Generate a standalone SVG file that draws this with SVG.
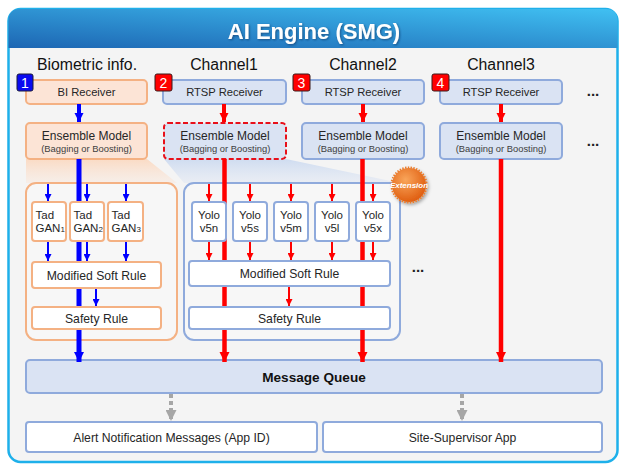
<svg xmlns="http://www.w3.org/2000/svg" width="621" height="465" viewBox="0 0 621 465">
<defs>
<linearGradient id="hdr" x1="0" y1="1" x2="1" y2="0">
<stop offset="0" stop-color="#1d66b3"/><stop offset="1" stop-color="#40c0f2"/>
</linearGradient>
<linearGradient id="fanO" x1="0" y1="0" x2="0" y2="1">
<stop offset="0" stop-color="#fbd8bf" stop-opacity="0.9"/><stop offset="1" stop-color="#fbe3d3" stop-opacity="0.35"/>
</linearGradient>
<linearGradient id="fanB" x1="0" y1="0" x2="0" y2="1">
<stop offset="0" stop-color="#cddbf0" stop-opacity="0.95"/><stop offset="1" stop-color="#dae3f3" stop-opacity="0.4"/>
</linearGradient>
<radialGradient id="ext" cx="0.4" cy="0.35" r="0.7">
<stop offset="0" stop-color="#f9a55a"/><stop offset="1" stop-color="#de5a0c"/>
</radialGradient>
<filter id="sh" x="-30%" y="-30%" width="160%" height="160%"><feDropShadow dx="1.5" dy="2" stdDeviation="1.5" flood-color="#000" flood-opacity="0.35"/></filter>
<filter id="tsh" x="-10%" y="-30%" width="120%" height="160%"><feDropShadow dx="1" dy="1" stdDeviation="0.8" flood-color="#0a2a5a" flood-opacity="0.6"/></filter>
<marker id="hBs" viewBox="0 0 10 10" refX="10" refY="5" markerWidth="7" markerHeight="7" markerUnits="userSpaceOnUse" orient="auto"><path d="M0,0L10,5L0,10z" fill="#0000ff"/></marker>
<marker id="hRs" viewBox="0 0 10 10" refX="10" refY="5" markerWidth="7" markerHeight="7" markerUnits="userSpaceOnUse" orient="auto"><path d="M0,0L10,5L0,10z" fill="#ff0000"/></marker>
<marker id="hBm" viewBox="0 0 10 10" refX="10" refY="5" markerWidth="9" markerHeight="10" markerUnits="userSpaceOnUse" orient="auto"><path d="M0,0L10,5L0,10z" fill="#0000ff"/></marker>
<marker id="hRm" viewBox="0 0 10 10" refX="10" refY="5" markerWidth="9" markerHeight="10" markerUnits="userSpaceOnUse" orient="auto"><path d="M0,0L10,5L0,10z" fill="#ff0000"/></marker>
<marker id="hBl" viewBox="0 0 10 10" refX="10" refY="5" markerWidth="10" markerHeight="11" markerUnits="userSpaceOnUse" orient="auto"><path d="M0,0L10,5L0,10z" fill="#0000ff"/></marker>
<marker id="hRl" viewBox="0 0 10 10" refX="10" refY="5" markerWidth="10" markerHeight="11" markerUnits="userSpaceOnUse" orient="auto"><path d="M0,0L10,5L0,10z" fill="#ff0000"/></marker>
<marker id="hG" viewBox="0 0 10 10" refX="10" refY="5" markerWidth="12" markerHeight="11" markerUnits="userSpaceOnUse" orient="auto"><path d="M0,0L10,5L0,10z" fill="#a6a6a6"/></marker>
</defs>
<style>
text{font-family:"Liberation Sans",Arial,sans-serif;fill:#262626;}
.ob{fill:#fce4d6;stroke:#f4b183;stroke-width:2;}
.bb{fill:#dae3f3;stroke:#8faadc;stroke-width:2;}
.wo{fill:#ffffff;stroke:#f4b183;stroke-width:2;}
.wb{fill:#ffffff;stroke:#8faadc;stroke-width:2;}
.rd{fill:#dae3f3;stroke:#e8101a;stroke-width:2;stroke-dasharray:5 2.5;}
.co{fill:#f7f7f7;stroke:#f4b183;stroke-width:2;}
.cb{fill:#f7f7f7;stroke:#8faadc;stroke-width:2;}
.col{font-size:15.8px;text-anchor:middle;fill:#111;}
.rcv{font-size:11.2px;text-anchor:middle;}
.em{font-size:12px;text-anchor:middle;}
.bg{font-size:9.4px;text-anchor:middle;fill:#404040;}
.sm{font-size:11.5px;}
.smc{font-size:11.5px;text-anchor:middle;}
.rule{font-size:12.2px;text-anchor:middle;}
.dots{font-size:15px;font-weight:bold;text-anchor:middle;fill:#222;}
.badgeB{fill:#0a0af0;stroke:#1a1a3a;stroke-width:1;}
.badgeR{fill:#ff0000;stroke:#3a1a1a;stroke-width:1;}
.bt{font-size:14px;text-anchor:middle;fill:#ffffff;}
.tb{stroke:#0000ff;fill:none;}
.tr{stroke:#ff0000;fill:none;}
.tg{stroke:#a6a6a6;fill:none;stroke-width:4;stroke-dasharray:4 3;}
</style>

<g id="frame">
<rect x="8.5" y="9" width="609" height="453" rx="12" fill="#f4f4f4" stroke="#1eb0ea" stroke-width="2.5"/>
<path d="M8.5,48 V21 Q8.5,9 20.5,9 H605.5 Q617.5,9 617.5,21 V48 Z" fill="url(#hdr)"/>
<text x="314" y="39" font-size="22px" font-weight="bold" text-anchor="middle" style="fill:#ffffff" filter="url(#tsh)">AI Engine (SMG)</text>
</g>

<g id="column-labels">
<text class="col" x="87" y="70">Biometric info.</text>
<text class="col" x="224" y="70">Channel1</text>
<text class="col" x="363" y="70">Channel2</text>
<text class="col" x="501" y="70">Channel3</text>
<text class="dots" x="593" y="96">...</text>
<text class="dots" x="593" y="146">...</text>
<text class="dots" x="158" y="226">...</text>
<text class="dots" x="418" y="272">...</text>
</g>

<g id="fans">
<polygon points="26,159 147,159 177,183 26,183" fill="url(#fanO)"/>
<polygon points="164,159 286,159 400,183 184,183" fill="url(#fanB)"/>
</g>

<g id="bi-group"><rect class="co" x="26" y="183" width="151" height="157" rx="10"/></g>
<g id="ch1-group"><rect class="cb" x="184" y="183" width="216" height="157" rx="10"/></g>

<g id="bi-receiver"><rect class="ob" x="26" y="80" width="121" height="24" rx="4"/><text class="rcv" x="86.5" y="96">BI Receiver</text></g>
<g id="rtsp1"><rect class="bb" x="163" y="80" width="123" height="24" rx="4"/><text class="rcv" x="224.5" y="96">RTSP Receiver</text></g>
<g id="rtsp2"><rect class="bb" x="302" y="80" width="122" height="24" rx="4"/><text class="rcv" x="363" y="96">RTSP Receiver</text></g>
<g id="rtsp3"><rect class="bb" x="440" y="80" width="122" height="24" rx="4"/><text class="rcv" x="501" y="96">RTSP Receiver</text></g>

<g id="ensemble-bi"><rect class="ob" x="26" y="123" width="121" height="36" rx="4"/><text class="em" x="86.5" y="140">Ensemble Model</text><text class="bg" x="86.5" y="152">(Bagging or Boosting)</text></g>
<g id="ensemble-ch1"><rect class="rd" x="164" y="123" width="122" height="36" rx="4"/><text class="em" x="225" y="140">Ensemble Model</text><text class="bg" x="225" y="152">(Bagging or Boosting)</text></g>
<g id="ensemble-ch2"><rect class="bb" x="302" y="123" width="122" height="36" rx="4"/><text class="em" x="363" y="140">Ensemble Model</text><text class="bg" x="363" y="152">(Bagging or Boosting)</text></g>
<g id="ensemble-ch3"><rect class="bb" x="440" y="123" width="122" height="36" rx="4"/><text class="em" x="501" y="140">Ensemble Model</text><text class="bg" x="501" y="152">(Bagging or Boosting)</text></g>

<g id="message-queue"><rect class="bb" x="26" y="360" width="576" height="33" rx="4"/><text x="314" y="382" font-size="13.6px" font-weight="bold" text-anchor="middle" style="fill:#111">Message Queue</text></g>
<g id="alert"><rect class="wb" x="26" y="422" width="291" height="30" rx="3"/><text class="rule" x="171.5" y="442">Alert Notification Messages (App ID)</text></g>
<g id="site-supervisor"><rect class="wb" x="323" y="422" width="279" height="30" rx="3"/><text class="rule" x="462.5" y="442">Site-Supervisor App</text></g>

<g id="connectors">
<line class="tb" x1="79" y1="104" x2="79" y2="122" stroke-width="4" marker-end="url(#hBm)"/>
<line class="tr" x1="224" y1="104" x2="224" y2="122" stroke-width="4" marker-end="url(#hRm)"/>
<line class="tr" x1="363" y1="104" x2="363" y2="122" stroke-width="4" marker-end="url(#hRm)"/>
<line class="tr" x1="501" y1="104" x2="501" y2="122" stroke-width="4" marker-end="url(#hRm)"/>
<line class="tb" x1="79" y1="159" x2="79" y2="362" stroke-width="5" marker-end="url(#hBl)"/>
<line class="tr" x1="224.5" y1="159" x2="224.5" y2="362" stroke-width="4.5" marker-end="url(#hRl)"/>
<line class="tr" x1="362.5" y1="159" x2="362.5" y2="362" stroke-width="4.5" marker-end="url(#hRl)"/>
<line class="tr" x1="501" y1="159" x2="501" y2="362" stroke-width="4.5" marker-end="url(#hRl)"/>
<line class="tb" x1="48" y1="184" x2="48" y2="201" stroke-width="2" marker-end="url(#hBs)"/>
<line class="tb" x1="87" y1="184" x2="87" y2="201" stroke-width="2" marker-end="url(#hBs)"/>
<line class="tb" x1="126" y1="184" x2="126" y2="201" stroke-width="2" marker-end="url(#hBs)"/>
<line class="tb" x1="48" y1="241" x2="48" y2="261" stroke-width="2" marker-end="url(#hBs)"/>
<line class="tb" x1="87" y1="241" x2="87" y2="261" stroke-width="2" marker-end="url(#hBs)"/>
<line class="tb" x1="126" y1="241" x2="126" y2="261" stroke-width="2" marker-end="url(#hBs)"/>
<line class="tb" x1="96" y1="288" x2="96" y2="306" stroke-width="2" marker-end="url(#hBs)"/>
<line class="tr" x1="209" y1="184" x2="209" y2="201" stroke-width="2" marker-end="url(#hRs)"/>
<line class="tr" x1="250" y1="184" x2="250" y2="201" stroke-width="2" marker-end="url(#hRs)"/>
<line class="tr" x1="291" y1="184" x2="291" y2="201" stroke-width="2" marker-end="url(#hRs)"/>
<line class="tr" x1="332" y1="184" x2="332" y2="201" stroke-width="2" marker-end="url(#hRs)"/>
<line class="tr" x1="373" y1="184" x2="373" y2="201" stroke-width="2" marker-end="url(#hRs)"/>
<line class="tr" x1="209" y1="241" x2="209" y2="260" stroke-width="2" marker-end="url(#hRs)"/>
<line class="tr" x1="250" y1="241" x2="250" y2="260" stroke-width="2" marker-end="url(#hRs)"/>
<line class="tr" x1="291" y1="241" x2="291" y2="260" stroke-width="2" marker-end="url(#hRs)"/>
<line class="tr" x1="332" y1="241" x2="332" y2="260" stroke-width="2" marker-end="url(#hRs)"/>
<line class="tr" x1="373" y1="241" x2="373" y2="260" stroke-width="2" marker-end="url(#hRs)"/>
<line class="tr" x1="289" y1="287" x2="289" y2="306" stroke-width="2" marker-end="url(#hRs)"/>
<line class="tg" x1="171" y1="394" x2="171" y2="421" marker-end="url(#hG)"/>
<line class="tg" x1="462" y1="394" x2="462" y2="421" marker-end="url(#hG)"/>
</g>

<g id="tadgan1"><rect class="wo" x="32" y="202" width="34" height="39" rx="3"/><text class="sm" x="35.5" y="219">Tad</text><text class="sm" x="35.5" y="232">GAN<tspan font-size="8px">1</tspan></text></g>
<g id="tadgan2"><rect class="wo" x="70" y="202" width="34" height="39" rx="3"/><text class="sm" x="73.5" y="219">Tad</text><text class="sm" x="73.5" y="232">GAN<tspan font-size="8px">2</tspan></text></g>
<g id="tadgan3"><rect class="wo" x="108" y="202" width="35" height="39" rx="3"/><text class="sm" x="111.5" y="219">Tad</text><text class="sm" x="111.5" y="232">GAN<tspan font-size="8px">3</tspan></text></g>

<g id="yolo-v5n"><rect class="wb" x="192" y="202" width="34" height="39" rx="3"/><text class="smc" x="209" y="219">Yolo</text><text class="smc" x="209" y="232">v5n</text></g>
<g id="yolo-v5s"><rect class="wb" x="233" y="202" width="34" height="39" rx="3"/><text class="smc" x="250" y="219">Yolo</text><text class="smc" x="250" y="232">v5s</text></g>
<g id="yolo-v5m"><rect class="wb" x="274" y="202" width="34" height="39" rx="3"/><text class="smc" x="291" y="219">Yolo</text><text class="smc" x="291" y="232">v5m</text></g>
<g id="yolo-v5l"><rect class="wb" x="315" y="202" width="34" height="39" rx="3"/><text class="smc" x="332" y="219">Yolo</text><text class="smc" x="332" y="232">v5l</text></g>
<g id="yolo-v5x"><rect class="wb" x="356" y="202" width="34" height="39" rx="3"/><text class="smc" x="373" y="219">Yolo</text><text class="smc" x="373" y="232">v5x</text></g>

<g id="soft-rule-bi"><rect class="wo" x="32" y="262" width="129" height="26" rx="3"/><text class="rule" x="96.5" y="279.5">Modified Soft Rule</text></g>
<g id="safety-bi"><rect class="wo" x="32" y="307" width="129" height="22" rx="3"/><text class="rule" x="96.5" y="322.5">Safety Rule</text></g>
<g id="soft-rule-ch1"><rect class="wb" x="189" y="261" width="201" height="25" rx="3"/><text class="rule" x="289.5" y="278">Modified Soft Rule</text></g>
<g id="safety-ch1"><rect class="wb" x="189" y="307" width="201" height="22" rx="3"/><text class="rule" x="289.5" y="322.5">Safety Rule</text></g>

<g id="badge1"><rect class="badgeB" x="17" y="74" width="16" height="17" rx="2"/><text class="bt" x="25" y="88">1</text></g>
<g id="badge2"><rect class="badgeR" x="155" y="74" width="17" height="17" rx="2"/><text class="bt" x="163.5" y="88">2</text></g>
<g id="badge3"><rect class="badgeR" x="293" y="74" width="17" height="17" rx="2"/><text class="bt" x="301.5" y="88">3</text></g>
<g id="badge4"><rect class="badgeR" x="432" y="74" width="17" height="17" rx="2"/><text class="bt" x="440.5" y="88">4</text></g>

<g id="extension">
<g filter="url(#sh)">
<circle cx="409" cy="185" r="17" fill="url(#ext)"/>
<circle cx="409" cy="185" r="17.6" fill="none" stroke="#ea7a2a" stroke-width="2" stroke-dasharray="1.4 1.4"/>
</g>
<text x="409" y="188" font-size="8px" font-style="italic" font-weight="bold" text-anchor="middle" style="fill:#ffffff">Extension</text>
</g>
</svg>
